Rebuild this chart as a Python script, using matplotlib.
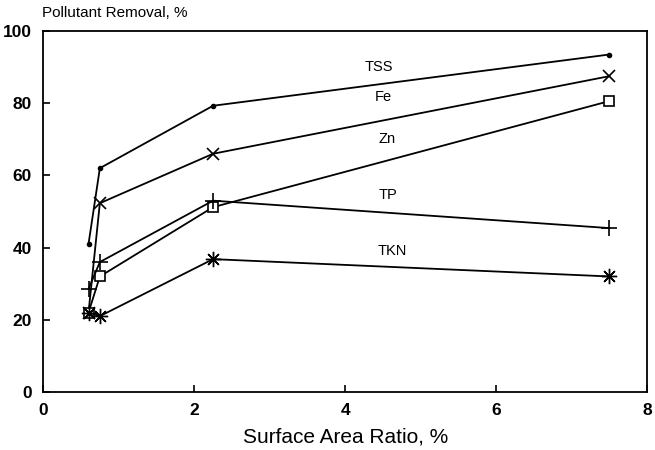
import matplotlib
matplotlib.use("Agg")
import matplotlib.pyplot as plt

plt.rcParams['font.family'] = ['Liberation Sans', 'DejaVu Sans']

# surface area ratio, %
ratio = [0.6, 0.75, 2.25, 7.5]

# pollutant removal, %
tss = [41, 62, 79.3, 93.5]
fe = [22, 52.3, 66, 87.5]
zn = [22, 32, 51.2, 80.6]
tp = [28.5, 36, 53, 45.4]
tkn = [22, 21, 36.8, 32]

labels = ['TSS', 'Fe', 'Zn', 'TP', 'TKN']
label_x = [4.45, 4.5, 4.55, 4.57, 4.62]
label_y = [90, 81.7, 70, 54.6, 39]

fig = plt.figure(figsize=(6.55, 4.5), dpi=100)
ax = fig.add_axes([0.066, 0.129, 0.922, 0.802])

kw = dict(color='black', lw=1.3, mfc='white', mec='black')
ax.plot(ratio, tss, marker='o', ms=3, mfc='black', color='black', lw=1.3)
ax.plot(ratio, fe, marker='x', ms=9, mew=1.2, color='black', lw=1.3)
ax.plot(ratio, zn, marker='s', ms=7, mew=1.2, **kw)
ax.plot(ratio, tp, marker='+', ms=12, mew=1.2, color='black', lw=1.3)
ax.plot(ratio, tkn, marker=(8, 2, 0), ms=11, mew=1.0, color='black', lw=1.3)

for t, x, y in zip(labels, label_x, label_y):
    ax.text(x, y, t, ha='center', va='center', fontsize=10.5)

ax.set_xlim(0, 8)
ax.set_ylim(0, 100)
ax.set_xticks([0, 2, 4, 6, 8])
ax.set_yticks([0, 20, 40, 60, 80, 100])
ax.tick_params(direction='in', length=5, width=1.2, labelsize=12.5, pad=8)
for lab in ax.get_xticklabels() + ax.get_yticklabels():
    lab.set_fontweight('bold')
for s in ax.spines.values():
    s.set_linewidth(1.3)

ax.set_xlabel('Surface Area Ratio, %', fontsize=15, labelpad=7)
fig.text(0.064, 0.955, 'Pollutant Removal, %', fontsize=11, ha='left', va='bottom')

fig.savefig('out.png', dpi=100)
